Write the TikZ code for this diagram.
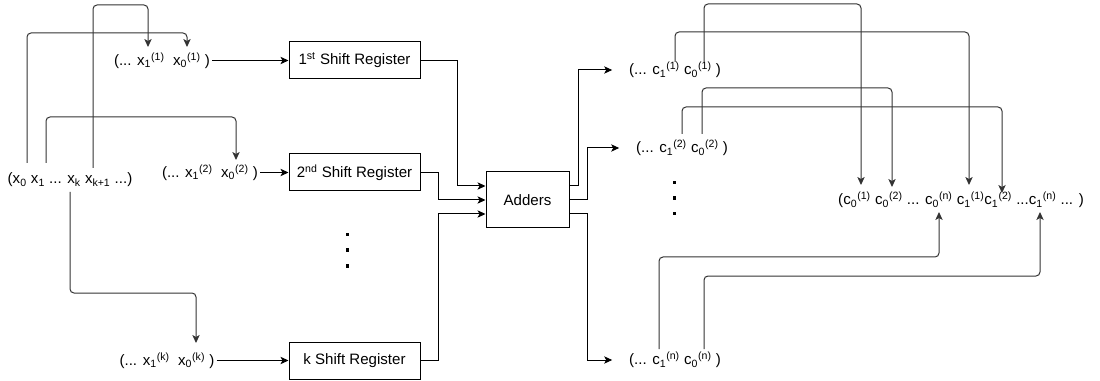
\documentclass[tikz,border=0pt]{standalone}
\usepackage{fontspec}
\setmainfont{Liberation Sans}
\usetikzlibrary{arrows.meta,calc}

\begin{document}
\begin{tikzpicture}[
    x=0.75pt, y=-0.75pt,
    every node/.style={font=\fontsize{11.3}{13}\selectfont, inner sep=1.5pt},
    box/.style={draw, rectangle, line width=0.75pt, minimum width=98.25pt, minimum height=27.75pt},
    arrow/.style={-{Stealth[length=6pt,width=5.5pt,inset=1.5pt]}, line width=0.75pt},
    feed/.style={arrow, draw=black!80, rounded corners=3pt}
    ]
    \useasboundingbox (0,0) rectangle (1100,381);

    % input sequence and its split parts
    \node (seq) at (70,180) {(x\textsubscript{0} x\textsubscript{1} ... x\textsubscript{k} x\textsubscript{k+1} ...)};

    \node (xs1) at (162,60.5) {(... x\textsubscript{1}\textsuperscript{(1)}\ \ x\textsubscript{0}\textsuperscript{(1)} )};

    \node (xs2) at (210,172.5) {(... x\textsubscript{1}\textsuperscript{(2)}\ \ x\textsubscript{0}\textsuperscript{(2)} )};

    \node (xsk) at (167,360.5) {(... x\textsubscript{1}\textsuperscript{(k)}\ \ x\textsubscript{0}\textsuperscript{(k)} )};

    % shift registers
    \node[box] (reg1) at (354.5,60.5) {1\textsuperscript{st} Shift Register};

    \node[box] (reg2) at (354.5,172.5) {2\textsuperscript{nd} Shift Register};

    \node[box] (regk) at (354.5,360.5) {k Shift Register};

    \node[box, minimum width=62.25pt, minimum height=42pt] (add) at (527.5,200) {Adders};

    % coded sequences
    \node (cs1) at (675,70) {(... c\textsubscript{1}\textsuperscript{(1)} c\textsubscript{0}\textsuperscript{(1)} )};

    \node (cs2) at (682,148) {(... c\textsubscript{1}\textsuperscript{(2)} c\textsubscript{0}\textsuperscript{(2)} )};

    \node (csn) at (675,360) {(... c\textsubscript{1}\textsuperscript{(n)} c\textsubscript{0}\textsuperscript{(n)} )};

    \node (out) at (961,200) {(c\textsubscript{0}\textsuperscript{(1)} c\textsubscript{0}\textsuperscript{(2)} ... c\textsubscript{0}\textsuperscript{(n)} c\textsubscript{1}\textsuperscript{(1)}c\textsubscript{1}\textsuperscript{(2)} ...c\textsubscript{1}\textsuperscript{(n)} ... )};

    % vertical dots
    \foreach \dy in {-15.5,0,15.5} {
        \fill (345.5,252+\dy) rectangle ++(3.5,-3.5);
        \fill (672.5,200+\dy) rectangle ++(3.5,-3.5);
    }

    % taps and drops
    \coordinate (t0) at (27,163);
    \coordinate (t1) at (46,163);
    \coordinate (tk) at (70,192);
    \coordinate (tk1) at (93,168);
    \coordinate (e11) at (148,47);
    \coordinate (e01) at (187,47);
    \coordinate (e02) at (236,160);
    \coordinate (e0k) at (196,343);

    \coordinate (s11) at (675,62);
    \coordinate (s01) at (704,62);
    \coordinate (s12) at (682,134);
    \coordinate (s02) at (702,134);
    \coordinate (s1n) at (659,349);
    \coordinate (s0n) at (704,349);
    \coordinate (g01) at (861,185);
    \coordinate (g02) at (892,187);
    \coordinate (g11) at (969,185);
    \coordinate (g12) at (1002,193);
    \coordinate (g0n) at (939,212);
    \coordinate (g1n) at (1040,212);

    \draw[feed] (t0) -- (t0 |- 0,33) -| (e01);
    \draw[feed] (tk1) -- (tk1 |- 0,5) -| (e11);
    \draw[feed] (t1) -- (t1 |- 0,117) -| (e02);
    \draw[feed] (tk) -- (tk |- 0,293) -| (e0k);

    \draw[arrow] (xs1) -- (reg1);
    \draw[arrow] (xs2) -- (reg2);
    \draw[arrow] (xsk) -- (regk);

    \draw[arrow] (reg1.east) -- ++(37,0) |- ([yshift=10.5pt]add.west);
    \draw[arrow] (reg2.east) -- ++(18,0) |- (add.west);
    \draw[arrow] (regk.east) -- ++(18,0) |- ([yshift=-10.5pt]add.west);

    \draw[arrow] ([yshift=10.5pt]add.east) -- ++(9,0) |- ([xshift=-11pt]cs1.west);
    \draw[arrow] (add.east) -- ++(18,0) |- ([xshift=-11pt]cs2.west);
    \draw[arrow] ([yshift=-10.5pt]add.east) -- ++(18,0) |- ([xshift=-11pt]csn.west);

    \draw[feed] (s01) -- (s01 |- 0,4) -| (g01);
    \draw[feed] (s11) -- (s11 |- 0,32) -| (g11);
    \draw[feed] (s02) -- (s02 |- 0,88) -| (g02);
    \draw[feed] (s12) -- (s12 |- 0,107) -| (g12);
    \draw[feed] (s1n) -- (s1n |- 0,257) -| (g0n);
    \draw[feed] (s0n) -- (s0n |- 0,276) -| (g1n);

\end{tikzpicture}
\end{document}
